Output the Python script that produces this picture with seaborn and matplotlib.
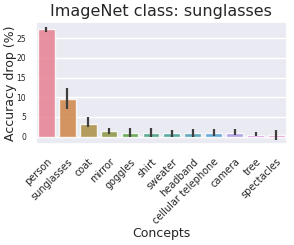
import matplotlib
matplotlib.use("Agg")
import matplotlib.pyplot as plt
import seaborn as sns
import pandas as pd

concepts = ["person", "sunglasses", "coat", "mirror", "goggles", "shirt", "sweater",
            "headband", "cellular telephone", "camera", "tree", "spectacles"]
drop = [27.3, 9.6, 3.2, 1.3, 1.0, 0.8, 0.8, 0.8, 0.8, 0.8, 0.5, 0.35]
err_low = [26.6, 7.0, 2.4, 0.7, 0.0, -0.2, 0.0, 0.0, 0.2, 0.4, 0.1, -0.8]
err_high = [28.0, 12.4, 4.9, 2.2, 2.1, 2.1, 1.8, 1.9, 2.0, 1.9, 1.1, 1.6]

sns.set_theme(style="darkgrid")
df = pd.DataFrame({"Concepts": concepts, "drop": drop})

fig = plt.figure(figsize=(2.94, 2.45), dpi=100)
ax = fig.add_axes([0.122, 0.412, 0.854, 0.499])
sns.barplot(data=df, x="Concepts", y="drop", hue="Concepts", palette="husl",
            legend=False, ax=ax, errorbar=None, alpha=0.85)
ax.vlines(range(len(concepts)), err_low, err_high, color="#3f3f3f", linewidth=1.6, zorder=3)
ax.set_xlim(-0.5, len(concepts) - 0.5)
ax.set_ylim(-1.9, 29.2)
ax.set_title("ImageNet class: sunglasses", fontsize=11.5, pad=4)
ax.set_ylabel("Accuracy drop (%)", fontsize=9, labelpad=0)
ax.set_xlabel("Concepts", fontsize=9, labelpad=1)
ax.tick_params(axis="y", labelsize=5.5, pad=1)
ax.tick_params(axis="x", labelsize=7, pad=3)
plt.setp(ax.get_xticklabels(), rotation=45, ha="right", rotation_mode="anchor")
fig.savefig("out.png", dpi=100)
